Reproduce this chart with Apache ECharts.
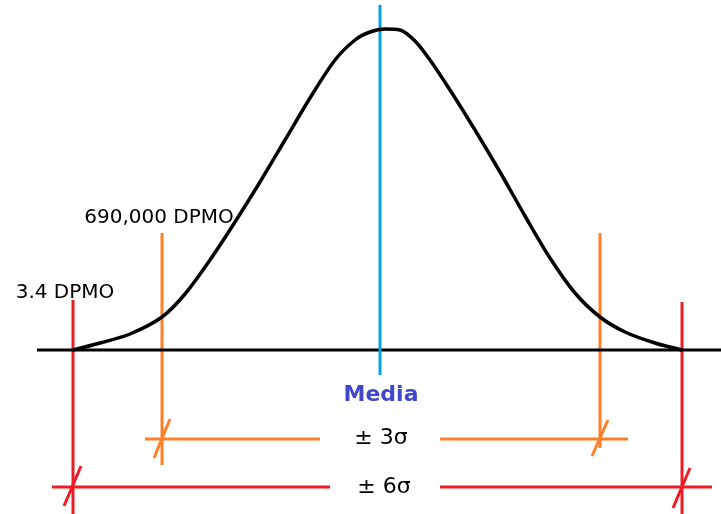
<!DOCTYPE html>
<html>
<head>
<meta charset="utf-8">
<script src="https://cdn.jsdelivr.net/npm/echarts@6/dist/echarts.min.js"></script>
<style>
  html, body { margin: 0; padding: 0; background: #fff; }
  #chart { width: 721px; height: 514px; }
</style>
</head>
<body>
<div id="chart"></div>
<script>
// bell curve: x, height above the baseline
const curveX = [73, 100, 130, 162, 185, 210, 235, 260, 285, 310, 335, 355, 370, 385, 400, 415, 430, 450, 475, 500, 525, 550, 575, 600, 625, 655, 682];
const curveY = [0, 7, 16, 33, 56, 90, 128, 168, 210, 252, 290, 310, 318, 321, 320, 309, 290, 260, 220, 178, 134, 92, 57, 33, 18, 7, 0];

const baseline = [[37, 0], [721, 0]];
const mediaLine = [[380, 345], [380, -25]];

// spec limit lines
const redLines = [
  [[73, 50], [73, -164]],
  [[682, 48], [682, -164]],
  [[52, -137], [330, -137]],
  [[440, -137], [712, -137]],
  [[64, -156], [81, -116]],
  [[673, -158], [690, -118]]
];
const orangeLines = [
  [[162, 117], [162, -115]],
  [[600, 117], [600, -98]],
  [[145, -89], [320, -89]],
  [[440, -89], [628, -89]],
  [[154, -108], [170, -69]],
  [[592, -106], [608, -70]]
];

const labels = [
  [159, 132, '690,000 DPMO'],
  [65, 57, '3.4 DPMO']
];
const sigmaLabels = [
  [381, -88, '± 3σ'],
  [384, -137, '± 6σ']
];
const mediaLabel = [[381, -45, 'Media']];

const chart = echarts.init(document.getElementById('chart'));

function seg(points, color, width) {
  return {
    type: 'line',
    data: points,
    symbol: 'none',
    silent: true,
    lineStyle: { color: color, width: width }
  };
}

function textSeries(data, color, size, weight) {
  return {
    type: 'scatter',
    symbolSize: 0,
    silent: true,
    data: data,
    itemStyle: { opacity: 1 },
    label: {
      show: true,
      position: 'inside',
      formatter: p => p.value[2],
      color: color,
      opacity: 1,
      fontFamily: 'DejaVu Sans',
      fontWeight: weight,
      fontSize: size
    }
  };
}

const series = [];
redLines.forEach(p => series.push(seg(p, '#ED1C24', 3)));
orangeLines.forEach(p => series.push(seg(p, '#FF7F27', 3)));
series.push(seg(baseline, '#000', 3));
series.push(seg(mediaLine, '#00A2E8', 3));
series.push({
  type: 'line',
  data: curveX.map((x, i) => [x, curveY[i]]),
  smooth: 0.3,
  symbol: 'none',
  lineStyle: { color: '#000', width: 3.5 }
});
series.push(textSeries(labels, '#000', 20, 'normal'));
series.push(textSeries(sigmaLabels, '#000', 22, 'normal'));
series.push(textSeries(mediaLabel, '#3F48CC', 22, 'bold'));

chart.setOption({
  animation: false,
  backgroundColor: '#fff',
  grid: { left: 0, right: 0, top: 0, bottom: 0 },
  xAxis: { type: 'value', min: 0, max: 721, show: false },
  yAxis: { type: 'value', min: -164, max: 350, show: false },
  series: series
});
</script>
</body>
</html>
